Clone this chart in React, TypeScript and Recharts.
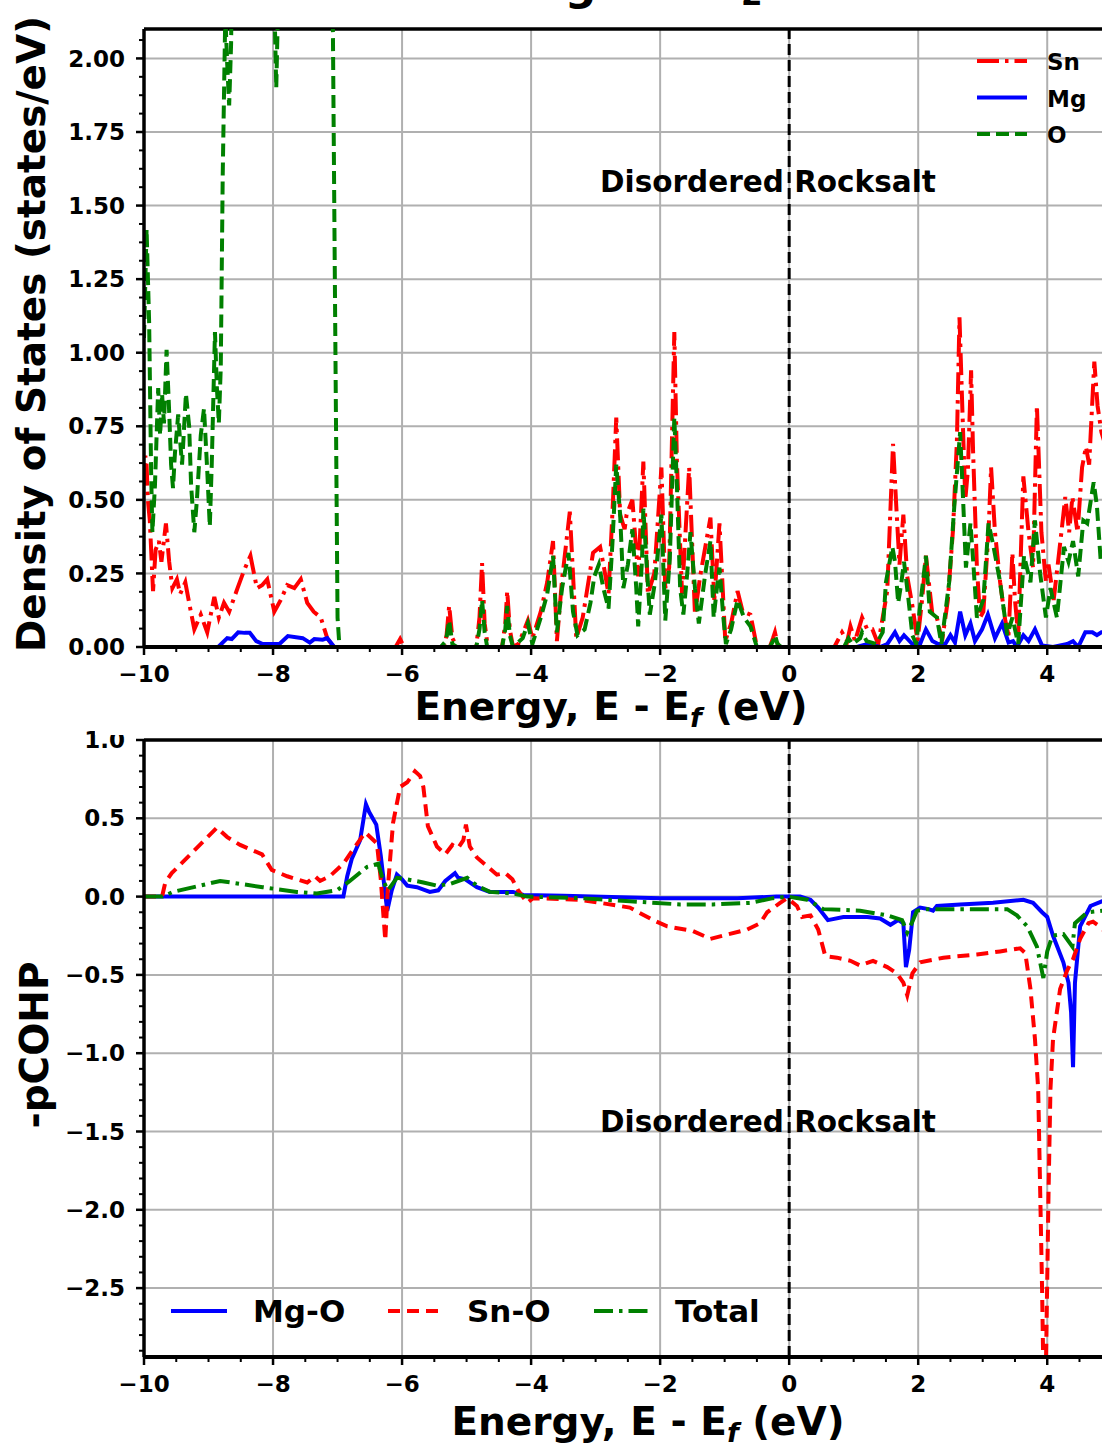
import {
  LineChart,
  Line,
  XAxis,
  YAxis,
  CartesianGrid,
  ReferenceLine,
  Legend,
} from "recharts";

const FONT = "'DejaVu Sans', sans-serif";

type Pt = [number, number];

// top panel: projected DOS, [E - Ef (eV), states/eV]
const SN_DOS: Pt[] = [
  [-10, 0.55], [-9.98, 0.65], [-9.96, 0.62], [-9.94, 0.5], [-9.91, 0.43], [-9.86, 0.19],
  [-9.82, 0.33], [-9.77, 0.36], [-9.73, 0.29], [-9.66, 0.42], [-9.61, 0.29], [-9.56, 0.2],
  [-9.49, 0.23], [-9.44, 0.18], [-9.36, 0.22], [-9.3, 0.15], [-9.22, 0.06], [-9.12, 0.11],
  [-9.02, 0.05], [-8.91, 0.17], [-8.84, 0.1], [-8.76, 0.15], [-8.68, 0.12], [-8.55, 0.2],
  [-8.45, 0.26], [-8.35, 0.31], [-8.25, 0.2], [-8.17, 0.21], [-8.09, 0.23], [-7.98, 0.12],
  [-7.88, 0.16], [-7.78, 0.21], [-7.67, 0.2], [-7.57, 0.23], [-7.47, 0.15], [-7.37, 0.12],
  [-7.26, 0.1], [-7.16, 0.03], [-7.06, 0], [-6.1, 0], [-6.03, 0.027], [-5.97, 0],
  [-5.35, 0], [-5.31, 0.04], [-5.27, 0.14], [-5.22, 0.03], [-5.15, 0], [-4.85, 0],
  [-4.8, 0.1], [-4.76, 0.285], [-4.72, 0.08], [-4.67, 0], [-4.45, 0], [-4.4, 0.08],
  [-4.37, 0.19], [-4.33, 0.06], [-4.28, 0], [-4.2, 0.01], [-4.12, 0.05], [-4.05, 0.09],
  [-3.98, 0.03], [-3.85, 0.12], [-3.75, 0.22], [-3.66, 0.36], [-3.6, 0.02], [-3.52, 0.23],
  [-3.4, 0.46], [-3.3, 0.03], [-3.2, 0.1], [-3.04, 0.32], [-2.93, 0.34], [-2.87, 0.27],
  [-2.8, 0.18], [-2.73, 0.5], [-2.68, 0.78], [-2.62, 0.45], [-2.55, 0.4], [-2.52, 0.45],
  [-2.43, 0.5], [-2.34, 0.24], [-2.26, 0.63], [-2.19, 0.18], [-2.09, 0.25], [-1.98, 0.61],
  [-1.92, 0.2], [-1.86, 0.27], [-1.78, 1.07], [-1.74, 0.63], [-1.66, 0.18], [-1.55, 0.61],
  [-1.46, 0.11], [-1.38, 0.24], [-1.22, 0.44], [-1.16, 0.16], [-1.08, 0.42], [-0.99, 0.02],
  [-0.9, 0.08], [-0.8, 0.19], [-0.72, 0.12], [-0.6, 0.11], [-0.5, 0], [-0.3, 0],
  [-0.25, 0.03], [-0.22, 0.05], [-0.18, 0.01], [-0.12, 0], [0.7, 0], [0.82, 0.05],
  [0.9, 0.02], [0.95, 0.07], [1.02, 0.02], [1.13, 0.1], [1.21, 0.06], [1.29, 0.06],
  [1.38, 0.01], [1.52, 0.19], [1.61, 0.69], [1.66, 0.48], [1.71, 0.28], [1.77, 0.45],
  [1.83, 0.24], [1.91, 0.14], [1.99, 0.02], [2.06, 0.16], [2.12, 0.31], [2.22, 0.11],
  [2.29, 0.1], [2.37, 0.02], [2.46, 0.16], [2.54, 0.4], [2.6, 0.7], [2.64, 1.12],
  [2.68, 0.84], [2.73, 0.5], [2.77, 0.6], [2.82, 0.94], [2.85, 0.67], [2.91, 0.27],
  [2.96, 0.1], [3.01, 0.12], [3.09, 0.39], [3.13, 0.61], [3.19, 0.39], [3.27, 0.22],
  [3.35, 0.09], [3.4, 0.04], [3.46, 0.32], [3.5, 0.16], [3.55, 0.04], [3.63, 0.58],
  [3.71, 0.39], [3.78, 0.27], [3.84, 0.82], [3.91, 0.39], [3.98, 0.22], [4.02, 0.28],
  [4.1, 0.16], [4.22, 0.39], [4.28, 0.51], [4.34, 0.39], [4.39, 0.51], [4.47, 0.39],
  [4.54, 0.61], [4.6, 0.68], [4.65, 0.62], [4.73, 0.97], [4.78, 0.82], [4.84, 0.73],
  [4.95, 0.65],
];

const MG_DOS: Pt[] = [
  [-10, 0], [-8.85, 0], [-8.71, 0.03], [-8.64, 0.027], [-8.54, 0.05], [-8.44, 0.048],
  [-8.36, 0.048], [-8.26, 0.02], [-8.16, 0.01], [-7.9, 0.01], [-7.77, 0.037], [-7.54, 0.03],
  [-7.43, 0.015], [-7.36, 0.027], [-7.23, 0.025], [-7.16, 0.03], [-7.05, 0], [1.05, 0],
  [1.21, 0.01], [1.41, 0], [1.52, 0.01], [1.64, 0.05], [1.71, 0.02], [1.78, 0.04],
  [1.91, 0.01], [2.03, 0.01], [2.12, 0.06], [2.22, 0.02], [2.31, 0.01], [2.42, 0.01],
  [2.5, 0.04], [2.57, 0.015], [2.65, 0.12], [2.73, 0.04], [2.81, 0.08], [2.88, 0.02],
  [2.99, 0.06], [3.08, 0.11], [3.19, 0.03], [3.3, 0.08], [3.4, 0.015], [3.47, 0.02],
  [3.53, 0], [3.63, 0.04], [3.71, 0.02], [3.81, 0.06], [3.92, 0.005], [4.09, 0],
  [4.31, 0.01], [4.4, 0.02], [4.48, 0], [4.59, 0.05], [4.7, 0.05], [4.77, 0.04],
  [4.84, 0.05], [4.95, 0.05],
];

const O_DOS: Pt[] = [
  [-10, 1.05], [-9.96, 1.42], [-9.92, 1.1], [-9.89, 0.6], [-9.87, 0.39], [-9.83, 0.55],
  [-9.78, 0.88], [-9.75, 0.72], [-9.72, 0.86], [-9.69, 0.76], [-9.65, 1.01], [-9.61, 0.8],
  [-9.58, 0.62], [-9.55, 0.54], [-9.52, 0.66], [-9.47, 0.79], [-9.44, 0.7], [-9.41, 0.62],
  [-9.38, 0.74], [-9.35, 0.86], [-9.3, 0.75], [-9.27, 0.55], [-9.22, 0.39], [-9.18, 0.5],
  [-9.12, 0.72], [-9.07, 0.81], [-9.02, 0.6], [-8.98, 0.41], [-8.95, 0.62], [-8.9, 1.07],
  [-8.87, 0.88], [-8.84, 0.76], [-8.81, 0.95], [-8.78, 1.6], [-8.74, 2.15], [-8.71, 1.98],
  [-8.68, 1.84], [-8.65, 2.05], [-8.62, 2.6], [-8.51, 3.1], [-8.36, 2.8], [-8.2, 3.3],
  [-8.05, 2.9], [-7.98, 2.2], [-7.95, 1.9], [-7.91, 2.3], [-7.74, 3.0], [-7.43, 3.4],
  [-7.19, 3.1], [-7.09, 2.6], [-7.04, 1.2], [-7.0, 0.1], [-6.97, 0], [-5.4, 0],
  [-5.32, 0.02], [-5.27, 0.09], [-5.22, 0.01], [-5.15, 0], [-4.85, 0], [-4.8, 0.06],
  [-4.76, 0.16], [-4.72, 0.05], [-4.68, 0], [-4.45, 0], [-4.4, 0.06], [-4.37, 0.14],
  [-4.33, 0.04], [-4.28, 0], [-4.13, 0.03], [-4.05, 0.08], [-3.98, 0.01], [-3.85, 0.1],
  [-3.75, 0.18], [-3.66, 0.31], [-3.6, 0.05], [-3.52, 0.2], [-3.42, 0.32], [-3.35, 0.12],
  [-3.28, 0.04], [-3.17, 0.06], [-3.08, 0.15], [-3.02, 0.24], [-2.95, 0.28], [-2.88, 0.2],
  [-2.8, 0.13], [-2.74, 0.35], [-2.68, 0.62], [-2.62, 0.45], [-2.57, 0.2], [-2.5, 0.28],
  [-2.43, 0.4], [-2.37, 0.2], [-2.34, 0.07], [-2.28, 0.3], [-2.26, 0.47], [-2.2, 0.25],
  [-2.16, 0.11], [-2.08, 0.22], [-1.98, 0.45], [-1.92, 0.09], [-1.85, 0.3], [-1.78, 0.78],
  [-1.74, 0.55], [-1.69, 0.2], [-1.64, 0.11], [-1.58, 0.25], [-1.53, 0.39], [-1.46, 0.2],
  [-1.4, 0.08], [-1.3, 0.25], [-1.22, 0.36], [-1.17, 0.1], [-1.12, 0.2], [-1.08, 0.27],
  [-1.02, 0.1], [-0.98, 0.01], [-0.9, 0.06], [-0.8, 0.16], [-0.7, 0.1], [-0.6, 0.07],
  [-0.5, 0], [-0.3, 0], [-0.25, 0.02], [-0.22, 0.04], [-0.18, 0.01], [-0.12, 0],
  [0.85, 0], [0.92, 0.03], [0.98, 0.01], [1.1, 0.03], [1.13, 0.05], [1.2, 0.02],
  [1.35, 0.01], [1.45, 0.05], [1.5, 0.22], [1.6, 0.34], [1.64, 0.29], [1.69, 0.15],
  [1.74, 0.22], [1.78, 0.29], [1.84, 0.18], [1.91, 0.04], [1.97, 0.01], [2.02, 0.12],
  [2.12, 0.31], [2.18, 0.12], [2.29, 0.1], [2.36, 0.01], [2.48, 0.22], [2.56, 0.48],
  [2.65, 0.73], [2.7, 0.48], [2.74, 0.27], [2.81, 0.42], [2.85, 0.3], [2.91, 0.1],
  [3.01, 0.16], [3.09, 0.42], [3.16, 0.35], [3.27, 0.22], [3.38, 0.04], [3.46, 0.1],
  [3.55, 0.01], [3.64, 0.31], [3.74, 0.22], [3.81, 0.43], [3.89, 0.25], [3.98, 0.1],
  [4.05, 0.2], [4.15, 0.1], [4.26, 0.34], [4.33, 0.29], [4.4, 0.36], [4.48, 0.24],
  [4.56, 0.43], [4.62, 0.42], [4.72, 0.56], [4.77, 0.48], [4.83, 0.29], [4.95, 0.35],
];

// bottom panel: -pCOHP, [E - Ef (eV), value]
const MGO_COHP: Pt[] = [
  [-10, 0], [-6.91, 0], [-6.85, 0.13], [-6.78, 0.24], [-6.65, 0.36], [-6.56, 0.59],
  [-6.51, 0.54], [-6.4, 0.46], [-6.33, 0.26], [-6.23, -0.09], [-6.16, 0.04], [-6.08, 0.14],
  [-6.0, 0.11], [-5.92, 0.07], [-5.77, 0.06], [-5.57, 0.03], [-5.44, 0.04], [-5.33, 0.1],
  [-5.18, 0.15], [-5.13, 0.12], [-5.02, 0.11], [-4.84, 0.06], [-4.64, 0.03], [-4.28, 0.03],
  [-4.12, 0.01], [-3.5, 0.005], [-2.0, -0.01], [-0.8, -0.01], [-0.2, 0], [0.17, 0],
  [0.33, -0.02], [0.45, -0.07], [0.6, -0.15], [0.84, -0.13], [1.21, -0.13], [1.41, -0.14],
  [1.57, -0.18], [1.69, -0.15], [1.77, -0.17], [1.81, -0.45], [1.86, -0.34], [1.92, -0.1],
  [2.03, -0.07], [2.16, -0.08], [2.23, -0.09], [2.29, -0.06], [2.65, -0.05], [3.16, -0.04],
  [3.63, -0.02], [3.78, -0.04], [3.92, -0.1], [4.0, -0.13], [4.09, -0.25], [4.25, -0.42],
  [4.33, -0.55], [4.37, -0.74], [4.4, -1.09], [4.43, -0.55], [4.51, -0.19], [4.67, -0.06],
  [4.85, -0.03], [4.95, -0.03],
];

const SNO_COHP: Pt[] = [
  [-10, 0], [-9.72, 0], [-9.67, 0.09], [-9.57, 0.15], [-8.87, 0.44], [-8.71, 0.38],
  [-8.51, 0.33], [-8.17, 0.27], [-8.02, 0.17], [-7.78, 0.13], [-7.47, 0.09], [-7.35, 0.13],
  [-7.27, 0.1], [-7.12, 0.13], [-6.91, 0.21], [-6.76, 0.3], [-6.57, 0.41], [-6.39, 0.34],
  [-6.33, 0.11], [-6.26, -0.28], [-6.22, 0.06], [-6.14, 0.47], [-6.03, 0.7], [-5.92, 0.73],
  [-5.8, 0.8], [-5.72, 0.77], [-5.67, 0.7], [-5.6, 0.45], [-5.46, 0.32], [-5.33, 0.27],
  [-5.22, 0.33], [-5.13, 0.31], [-5.05, 0.36], [-5.01, 0.46], [-4.95, 0.32], [-4.84, 0.25],
  [-4.67, 0.19], [-4.53, 0.14], [-4.4, 0.15], [-4.29, 0.11], [-4.2, 0.04], [-4.06, -0.04],
  [-3.97, -0.01], [-3.24, -0.02], [-2.47, -0.07], [-2.11, -0.15], [-1.89, -0.19], [-1.49, -0.22],
  [-1.22, -0.27], [-0.65, -0.21], [-0.45, -0.17], [-0.34, -0.1], [-0.14, -0.04], [-0.03, -0.01],
  [0.12, -0.06], [0.2, -0.13], [0.33, -0.12], [0.45, -0.21], [0.56, -0.38], [0.74, -0.39],
  [0.95, -0.41], [1.1, -0.44], [1.3, -0.41], [1.52, -0.45], [1.67, -0.49], [1.77, -0.55],
  [1.83, -0.63], [1.91, -0.49], [2.03, -0.42], [2.39, -0.39], [2.91, -0.37], [3.27, -0.35],
  [3.58, -0.33], [3.66, -0.36], [3.74, -0.59], [3.81, -0.91], [3.86, -1.23], [3.92, -2.5],
  [3.95, -3.3], [3.98, -3.0], [4.02, -1.9], [4.05, -1.23], [4.09, -0.91], [4.2, -0.59],
  [4.31, -0.47], [4.4, -0.4], [4.51, -0.27], [4.64, -0.17], [4.71, -0.16], [4.78, -0.18],
  [4.85, -0.21], [4.95, -0.22],
];

const TOTAL_COHP: Pt[] = [
  [-10, 0], [-9.71, 0], [-9.55, 0.03], [-8.82, 0.1], [-8.16, 0.06], [-7.63, 0.03],
  [-7.32, 0.02], [-7.01, 0.04], [-6.81, 0.1], [-6.54, 0.19], [-6.37, 0.21], [-6.29, 0.1],
  [-6.22, 0.04], [-6.08, 0.12], [-5.92, 0.11], [-5.67, 0.09], [-5.46, 0.07], [-5.26, 0.08],
  [-4.99, 0.12], [-4.84, 0.07], [-4.64, 0.03], [-4.28, 0.02], [-4.06, 0], [-3.24, -0.01],
  [-2.47, -0.03], [-1.69, -0.05], [-1.18, -0.05], [-0.6, -0.04], [-0.25, -0.01], [-0.02, 0],
  [0.28, -0.02], [0.53, -0.08], [1.1, -0.09], [1.52, -0.12], [1.75, -0.15], [1.83, -0.23],
  [1.91, -0.16], [1.98, -0.09], [2.14, -0.08], [2.65, -0.08], [3.38, -0.08], [3.53, -0.12],
  [3.69, -0.19], [3.84, -0.32], [3.94, -0.52], [4.0, -0.35], [4.08, -0.25], [4.25, -0.24],
  [4.39, -0.32], [4.43, -0.17], [4.62, -0.1], [4.85, -0.09], [4.95, -0.09],
];

const X_MAJOR = [-10, -8, -6, -4, -2, 0, 2, 4];
const DOS_MAJOR = [0, 0.25, 0.5, 0.75, 1, 1.25, 1.5, 1.75, 2];
const COHP_MAJOR = [-2.5, -2, -1.5, -1, -0.5, 0, 0.5, 1];

const X_TICKS = Array.from({ length: 32 }, (_, i) => -10 + i * 0.5);
const DOS_TICKS = Array.from({ length: 34 }, (_, i) => i * 0.0625);
const COHP_TICKS = Array.from({ length: 40 }, (_, i) => Math.round((1 - i * 0.1) * 10) / 10);

const DOS_SERIES = [
  { name: "Sn", data: SN_DOS, color: "#ff0000", dash: "22 6 3.5 6" },
  { name: "Mg", data: MG_DOS, color: "#0000ff", dash: undefined },
  { name: "O", data: O_DOS, color: "#008000", dash: "13 6" },
];

const COHP_SERIES = [
  { name: "Mg-O", data: MGO_COHP, color: "#0000ff", dash: undefined },
  { name: "Sn-O", data: SNO_COHP, color: "#ff0000", dash: "12 7" },
  { name: "Total", data: TOTAL_COHP, color: "#008000", dash: "19 6 3.5 6" },
];

const rows = (pts: Pt[]) => pts.map(([e, v]) => ({ e, v }));

const LINE_W = 4;
const TICK_SIZE = 8;
const MINOR_SIZE = 5;
const TICK_GAP = 11;

const fmt = (v: number, d: number) => (v < 0 ? "\u2212" : "") + Math.abs(v).toFixed(d);

function XTick(props: any) {
  const { x, y, payload } = props;
  const v = payload.value;
  const major = X_MAJOR.includes(v);
  const y0 = y - TICK_GAP - TICK_SIZE;
  return (
    <g>
      <line x1={x} x2={x} y1={y0} y2={y0 + (major ? TICK_SIZE : MINOR_SIZE)} stroke="#000" strokeWidth={major ? 2.5 : 2} />
      {major && (
        <text x={x} y={y} dy="0.71em" textAnchor="middle" fontFamily={FONT} fontWeight="bold" fontSize={23} fill="#000">
          {fmt(v, 0)}
        </text>
      )}
    </g>
  );
}

function makeYTick(majors: number[], digits: number) {
  return function YTick(props: any) {
    const { x, y, payload } = props;
    const v = payload.value;
    const major = majors.includes(v);
    const x0 = x + TICK_GAP + TICK_SIZE;
    return (
      <g>
        <line x1={x0 - (major ? TICK_SIZE : MINOR_SIZE)} x2={x0} y1={y} y2={y} stroke="#000" strokeWidth={major ? 2.5 : 2} />
        {major && (
          <text x={x} y={y} dy="0.355em" textAnchor="end" fontFamily={FONT} fontWeight="bold" fontSize={23} fill="#000">
            {fmt(v, digits)}
          </text>
        )}
      </g>
    );
  };
}

const DosTick = makeYTick(DOS_MAJOR, 2);
const CohpTick = makeYTick(COHP_MAJOR, 1);

function DosLegend() {
  return (
    <svg width={130} height={115}>
      {DOS_SERIES.map((s, i) => {
        const y = 21 + i * 36.5;
        return (
          <g key={s.name}>
            <line x1={7} x2={57} y1={y} y2={y} stroke={s.color} strokeWidth={LINE_W} strokeDasharray={s.dash} />
            <text x={77} y={y + 9} fontFamily={FONT} fontWeight="bold" fontSize={23} fill="#000">
              {s.name}
            </text>
          </g>
        );
      })}
    </svg>
  );
}

const COHP_KEY_X = [11, 228, 434];
const COHP_TEXT_X = [93, 307, 515];

function CohpLegend() {
  return (
    <svg width={640} height={45}>
      {COHP_SERIES.map((s, i) => (
        <g key={s.name}>
          <line x1={COHP_KEY_X[i]} x2={COHP_KEY_X[i] + 56} y1={21} y2={21} stroke={s.color} strokeWidth={LINE_W} strokeDasharray={s.dash} />
          <text x={COHP_TEXT_X[i]} y={32} fontFamily={FONT} fontWeight="bold" fontSize={31} fill="#000">
            {s.name}
          </text>
        </g>
      ))}
    </svg>
  );
}

function EnergyLabel({ x, y }: { x: number; y: number }) {
  return (
    <text x={x} y={y} textAnchor="middle" fontFamily={FONT} fontWeight="bold" fontSize={39} fill="#000">
      Energy, E - E
      <tspan dy={7} fontSize={27} fontStyle="italic">f</tspan>
      <tspan dy={-7}> (eV)</tspan>
    </text>
  );
}

export default function App() {
  return (
    <div
      style={{
        position: "absolute",
        left: 0,
        top: 0,
        width: 1102,
        height: 1443,
        overflow: "hidden",
        background: "#fff",
        fontFamily: FONT,
      }}
    >
      <div style={{ position: "absolute", left: 0, top: 0 }}>
        <LineChart width={1200} height={700} margin={{ top: 29, right: 56, bottom: 0, left: 0 }}>
          <CartesianGrid stroke="#b0b0b0" strokeWidth={2} verticalValues={X_MAJOR} horizontalValues={DOS_MAJOR} />
          <XAxis
            dataKey="e"
            type="number"
            domain={[-10, 5.5]}
            allowDataOverflow
            ticks={X_TICKS}
            interval={0}
            height={53}
            tickSize={TICK_SIZE}
            tickMargin={TICK_GAP}
            tickLine={false}
            tick={<XTick />}
            axisLine={{ stroke: "#000", strokeWidth: 4 }}
          />
          <YAxis
            type="number"
            domain={[0, 2.1]}
            allowDataOverflow
            ticks={DOS_TICKS}
            interval={0}
            width={144}
            tickSize={TICK_SIZE}
            tickMargin={TICK_GAP}
            tickLine={false}
            tick={<DosTick />}
            axisLine={{ stroke: "#000", strokeWidth: 3.5 }}
          />
          <ReferenceLine y={2.1} stroke="#000" strokeWidth={3.5} />
          {DOS_SERIES.map((s) => (
            <Line
              key={s.name}
              name={s.name}
              data={rows(s.data)}
              dataKey="v"
              type="linear"
              stroke={s.color}
              strokeWidth={LINE_W}
              strokeDasharray={s.dash}
              dot={false}
              activeDot={false}
              isAnimationActive={false}
            />
          ))}
          <ReferenceLine x={0} stroke="#000" strokeWidth={3} strokeDasharray="11 5" />
          <Legend
            layout="horizontal"
            verticalAlign="middle"
            align="center"
            content={() => <DosLegend />}
            wrapperStyle={{ position: "absolute", left: 970, top: 40, width: 130, height: 115 }}
          />
        </LineChart>
      </div>

      <div style={{ position: "absolute", left: 0, top: 700 }}>
        <LineChart width={1200} height={743} margin={{ top: 40, right: 56, bottom: 0, left: 0 }}>
          <CartesianGrid stroke="#b0b0b0" strokeWidth={2} verticalValues={X_MAJOR} horizontalValues={COHP_MAJOR} />
          <XAxis
            dataKey="e"
            type="number"
            domain={[-10, 5.5]}
            allowDataOverflow
            ticks={X_TICKS}
            interval={0}
            height={86}
            tickSize={TICK_SIZE}
            tickMargin={TICK_GAP}
            tickLine={false}
            tick={<XTick />}
            axisLine={{ stroke: "#000", strokeWidth: 4 }}
          />
          <YAxis
            type="number"
            domain={[-2.94, 1.0]}
            allowDataOverflow
            ticks={COHP_TICKS}
            interval={0}
            width={144}
            tickSize={TICK_SIZE}
            tickMargin={TICK_GAP}
            tickLine={false}
            tick={<CohpTick />}
            axisLine={{ stroke: "#000", strokeWidth: 3.5 }}
          />
          <ReferenceLine y={1.0} stroke="#000" strokeWidth={3.5} />
          {COHP_SERIES.map((s) => (
            <Line
              key={s.name}
              name={s.name}
              data={rows(s.data)}
              dataKey="v"
              type="linear"
              stroke={s.color}
              strokeWidth={LINE_W}
              strokeDasharray={s.dash}
              dot={false}
              activeDot={false}
              isAnimationActive={false}
            />
          ))}
          <ReferenceLine x={0} stroke="#000" strokeWidth={3} strokeDasharray="11 5" />
          <Legend
            layout="horizontal"
            verticalAlign="middle"
            align="center"
            content={() => <CohpLegend />}
            wrapperStyle={{ position: "absolute", left: 160, top: 590, width: 640, height: 45 }}
          />
        </LineChart>
      </div>

      <svg
        width={1102}
        height={1443}
        style={{ position: "absolute", left: 0, top: 0, pointerEvents: "none" }}
      >
        {/* figure title, only its lowest strokes fall inside the picture */}
        <text fontFamily={FONT} fontWeight="bold" fontSize={44} fill="#000">
          <tspan x={521} y={0}>Mg</tspan>
          <tspan y={-3}>SnO</tspan>
          <tspan x={741} y={5} fontSize={31}>2</tspan>
        </text>
        <text
          transform="translate(45,334) rotate(-90)"
          textAnchor="middle"
          fontFamily={FONT}
          fontWeight="bold"
          fontSize={39}
          fill="#000"
        >
          Density of States (states/eV)
        </text>
        <EnergyLabel x={611} y={720} />
        <text x={768} y={192} textAnchor="middle" fontFamily={FONT} fontWeight="bold" fontSize={29.5} fill="#000">
          Disordered Rocksalt
        </text>
        <rect x={95} y={725} width={46} height={10} fill="#fff" />
        <text
          transform="translate(48,1045) rotate(-90)"
          textAnchor="middle"
          fontFamily={FONT}
          fontWeight="bold"
          fontSize={39}
          fill="#000"
        >
          -pCOHP
        </text>
        <text x={768} y={1132} textAnchor="middle" fontFamily={FONT} fontWeight="bold" fontSize={29.5} fill="#000">
          Disordered Rocksalt
        </text>
        <EnergyLabel x={648} y={1435} />
      </svg>
    </div>
  );
}
